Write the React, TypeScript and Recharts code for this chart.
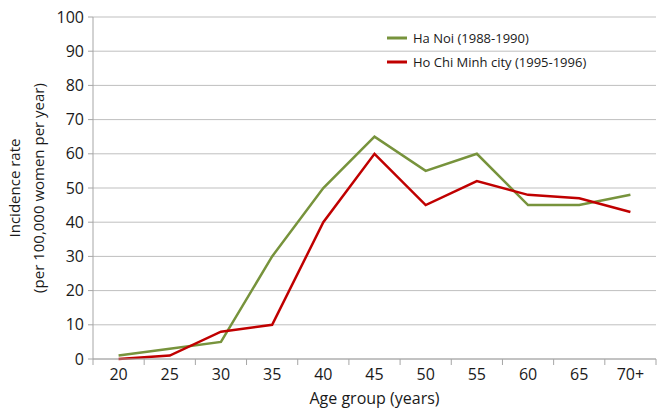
import React from 'react';
import { LineChart, Line, XAxis, YAxis, CartesianGrid } from 'recharts';

const ageGroups = ['20', '25', '30', '35', '40', '45', '50', '55', '60', '65', '70+'];
const haNoi = [1, 3, 5, 30, 50, 65, 55, 60, 45, 45, 48];
const hoChiMinh = [0, 1, 8, 10, 40, 60, 45, 52, 48, 47, 43];
const yTicks = [0, 10, 20, 30, 40, 50, 60, 70, 80, 90, 100];

const seriesNames = ['Ha Noi (1988-1990)', 'Ho Chi Minh city (1995-1996)'];
const seriesColors = ['#77933c', '#c00000'];

const data = ageGroups.map((g, i) => ({ age: g, haNoi: haNoi[i], hcm: hoChiMinh[i] }));

const W = 664;
const H = 414;
const margin = { top: 17, right: 8, left: 0, bottom: 0 };
const yAxisWidth = 93;
const xAxisHeight = 55;
const plotWidth = W - margin.left - margin.right - yAxisWidth;
const band = plotWidth / ageGroups.length;

const font = '"Open Sans", "Noto Sans", sans-serif';
const textColor = '#1a1a1a';
const axisColor = '#a6a6a6';

const XTick = (props: any) => {
  const { x, y, payload, index } = props;
  const top = y - 8;
  return (
    <g>
      <line x1={x - band / 2} x2={x - band / 2} y1={top} y2={top + 6} stroke={axisColor} />
      {index === ageGroups.length - 1 && (
        <line x1={x + band / 2} x2={x + band / 2} y1={top} y2={top + 6} stroke={axisColor} />
      )}
      <text x={x} y={top + 21} textAnchor="middle" fontSize={16} fill={textColor} fontFamily={font}>
        {payload.value}
      </text>
    </g>
  );
};

const YLabel = (props: any) => {
  const { viewBox } = props;
  const cy = viewBox.y + viewBox.height / 2;
  return (
    <g fontFamily={font} fontSize={15} fill={textColor}>
      <text x={20} y={cy} transform={`rotate(-90 20 ${cy})`} textAnchor="middle">
        Incidence rate
      </text>
      <text x={44} y={cy} transform={`rotate(-90 44 ${cy})`} textAnchor="middle">
        (per 100,000 women per year)
      </text>
    </g>
  );
};

const LegendBox = () => (
  <div style={{ position: 'absolute', left: 387, top: 26, fontFamily: font, fontSize: 13, color: textColor }}>
    {seriesNames.map((name, i) => (
      <div key={name} style={{ display: 'flex', alignItems: 'center', height: 24 }}>
        <svg width={20} height={4} style={{ marginRight: 6 }}>
          <line x1={0} x2={20} y1={2} y2={2} stroke={seriesColors[i]} strokeWidth={3} />
        </svg>
        <span>{name}</span>
      </div>
    ))}
  </div>
);

export default function App() {
  return (
    <div style={{ position: 'absolute', left: 0, top: 0, width: W, height: H, background: '#fff' }}>
      <LineChart width={W} height={H} data={data} margin={margin}>
        <CartesianGrid vertical={false} stroke="#bfbfbf" />
        <XAxis
          dataKey="age"
          scale="band"
          height={xAxisHeight}
          stroke={axisColor}
          tickLine={false}
          tick={<XTick />}
          interval={0}
          label={{ value: 'Age group (years)', position: 'insideBottom', offset: 10, fontSize: 16, fill: textColor, fontFamily: font }}
        />
        <YAxis
          width={yAxisWidth}
          domain={[0, 100]}
          ticks={yTicks}
          interval={0}
          stroke={axisColor}
          tickSize={5}
          tickMargin={4}
          tick={{ fontSize: 16, fill: textColor, fontFamily: font }}
          label={<YLabel />}
        />
        <Line type="linear" dataKey="haNoi" name={seriesNames[0]} stroke={seriesColors[0]} strokeWidth={2.5} dot={false} isAnimationActive={false} />
        <Line type="linear" dataKey="hcm" name={seriesNames[1]} stroke={seriesColors[1]} strokeWidth={2.5} dot={false} isAnimationActive={false} />
      </LineChart>
      <LegendBox />
    </div>
  );
}
